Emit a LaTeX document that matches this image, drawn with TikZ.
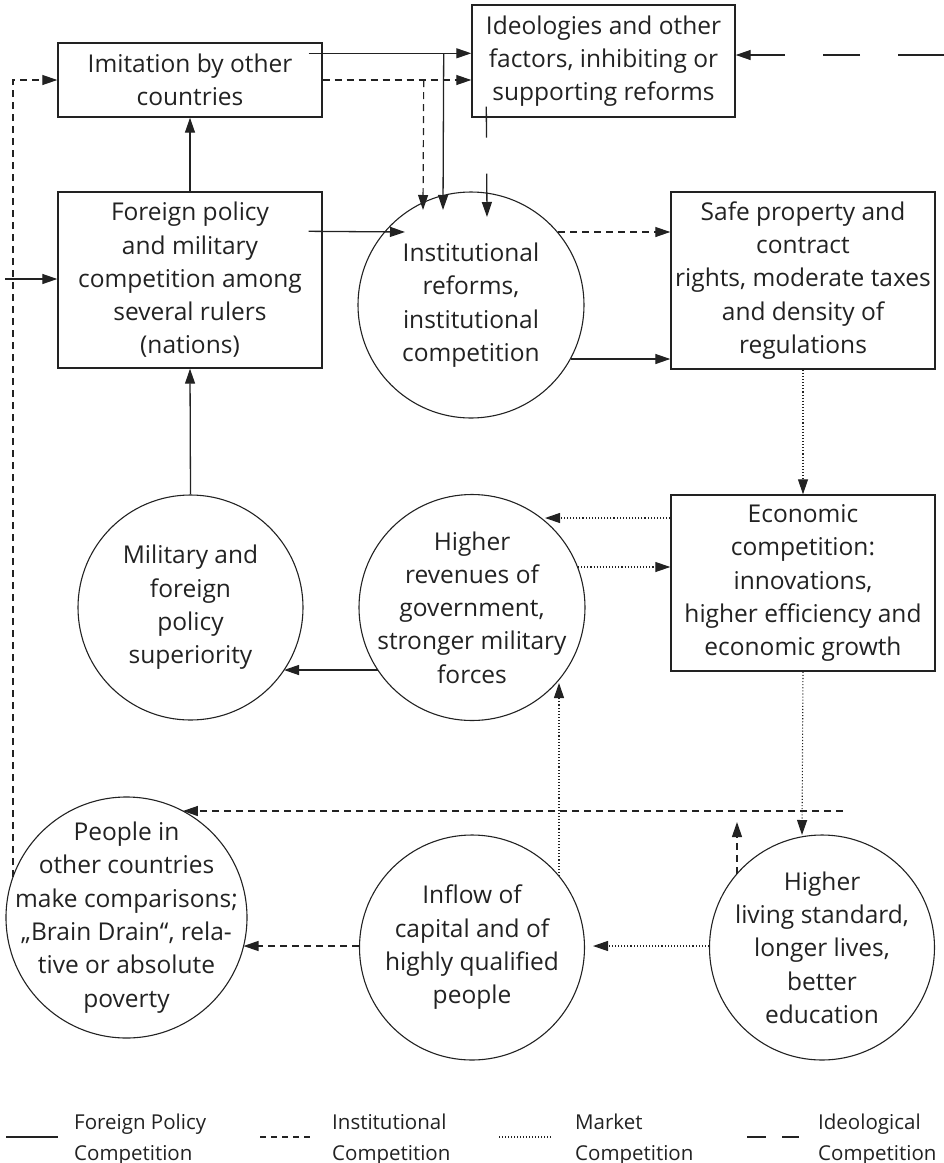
\documentclass[tikz,border=0pt]{standalone}
\usepackage{fontspec}
\setmainfont{Open Sans}
\usetikzlibrary{arrows.meta,calc}
\definecolor{ink}{HTML}{222222}
\begin{document}
\begin{tikzpicture}[x=1pt,y=-1pt,
  every node/.style={font=\fontsize{24.5}{33.3}\selectfont, align=center, inner sep=0pt, text=ink},
  boxnode/.style={draw=ink, line width=1.4pt, rectangle, minimum width=264pt},
  circnode/.style={draw=ink, line width=1.1pt, circle, inner sep=-80pt},
  fp/.style={draw=ink, line width=1.3pt},
  inst/.style={draw=ink, line width=1.2pt, dash pattern=on 7pt off 5pt},
  mkt/.style={draw=ink, line width=1.1pt, dash pattern=on 1.1pt off 2pt},
  ideol/.style={draw=ink, line width=1.3pt},
  tip/.style={-{Triangle[length=15pt,width=10pt]}},
  legtext/.style={font=\fontsize{20.5}{31}\selectfont, anchor=base west, align=left}
]
\useasboundingbox (0,0) rectangle (944,1163);

% nodes
\node[boxnode, minimum height=74pt] (imit) at (190,80) {Imitation by other\\countries};
\node[boxnode, minimum width=263pt, minimum height=112pt] (ideo) at (603.5,61) {Ideologies and other\\factors, inhibiting or\\supporting reforms};
\node[boxnode, minimum height=176pt] (foreign) at (190,280) {Foreign policy\\and military\\competition among\\several rulers\\(nations)};
\node[circnode, minimum size=226pt] (instc) at (471,305) {Institutional\\reforms,\\institutional\\competition};
\node[boxnode, minimum height=177pt] (safe) at (803,280.5) {Safe property and\\contract\\rights, moderate taxes\\and density of\\regulations};
\node[circnode, minimum size=225pt] (milit) at (190.5,607.5) {Military and\\foreign\\policy\\superiority};
\node[circnode, minimum size=226pt] (revenue) at (472,607.5) {Higher\\revenues of\\government,\\stronger military\\forces};
\node[boxnode, minimum height=176pt] (econ) at (803,583) {Economic\\competition:\\innovations,\\higher efficiency and\\economic growth};
\node[circnode, minimum size=241pt] (people) at (126.5,917.5) {People in\\other countries\\make comparisons;\\„Brain Drain“, rela-\\tive or absolute\\poverty};
\node[circnode, minimum size=225pt] (inflow) at (472,947.5) {Inflow of\\capital and of\\highly qualified\\people};
\node[circnode, minimum size=225pt] (living) at (822,947.5) {Higher\\living standard,\\longer lives,\\better\\education};

% free-end coordinates
\coordinate (inL) at (5,279);
\coordinate (ideoR) at (944,55);
\coordinate (hzR) at (843,811);

% helper coordinates on/in nodes
\coordinate (imitA) at ($(imit.north east)+(-14,11)$);
\coordinate (jA) at ($(imitA)+(135,0)$);
\coordinate (jB) at ($(imit.east)+(101,0)$);
\coordinate (fA) at ($(foreign.north east)+(-14,40)$);
\coordinate (iA) at ($(ideo.south west)+(15,-11)$);
\coordinate (iS1) at ($(instc.center)+(87,-73)$);
\coordinate (iS2) at ($(instc.center)+(100,54)$);
\coordinate (rE) at ($(revenue.center)+(106,-40.5)$);

% Foreign policy competition (solid)
\draw[fp,tip] (imitA) -- (imitA -| ideo.west);
\draw[fp,tip] (jA) -- ($(instc.center)+(-28,-95)$);
\draw[fp,tip] (foreign.north) -- (imit.south);
\draw[fp,tip] (inL) -- (inL -| foreign.west);
\draw[fp,tip] (fA) -- ($(instc.center)+(-66,-73)$);
\draw[fp,tip] (iS2) -- (iS2 -| safe.west);
\draw[fp,tip] ($(revenue.center)+(-94,62.5)$) -- ($(milit.center)+(93.5,62.5)$);
\draw[fp,tip] (milit.north) -- (foreign.south);

% Institutional competition (dashed)
\draw[inst,tip] (imit.east) -- (imit.east -| ideo.west);
\draw[inst,tip] (jB) -- ($(instc.center)+(-48,-95)$);
\draw[inst,tip] ($(people.center)+(-113.5,-40.5)$) |- (imit.west);
\draw[inst,tip] (iS1) -- (iS1 -| safe.west);
\draw[inst,tip] (hzR) -- ($(people.center)+(56.4,-106.5)$);
\draw[inst,tip] ($(living.center)+(-85,-74)$) -- ($(living.center)+(-85,-125.5)$);
\draw[inst,tip] ($(inflow.center)+(-113,-1.5)$) -- ($(people.center)+(117,28.5)$);

% Market competition (dotted)
\draw[mkt,tip] (safe.south -| econ.north) -- (econ.north);
\draw[mkt,tip] ($(econ.west)+(0,-65)$) -- ($(revenue.center)+(73,-89.5)$);
\draw[mkt,tip] (rE) -- (rE -| econ.west);
\draw[mkt,tip] (econ.south) -- ($(living.center)+(-20,-112.5)$);
\draw[mkt,tip] ($(inflow.center)+(87,-71.5)$) -- ($(revenue.center)+(87,75.5)$);
\draw[mkt,tip] ($(living.center)+(-113,-1.5)$) -- ($(inflow.center)+(121,-1.5)$);

% Ideological competition (long dashes)
\draw[ideol,dash pattern=on 46pt off 38pt on 37pt off 38pt on 60pt,tip] (ideoR) -- (ideoR -| ideo.east);
\draw[ideol,dash pattern=on 31pt off 36pt on 60pt,tip] (iA) -- ($(instc.center)+(16,-88)$);

% legend
\coordinate (lg1) at (6,1137);
\coordinate (lg2) at (260,1137);
\coordinate (lg3) at (499,1137);
\coordinate (lg4) at (747,1137);
\draw[fp] (lg1) -- ++(52,0);
\draw[inst, dash pattern=on 6pt off 5pt] (lg2) -- ++(53,0);
\draw[mkt, dash pattern=on 0.8pt off 2.2pt] (lg3) -- ++(53,0);
\draw[ideol] (lg4) -- ++(19,0) ++(16,0) -- ++(17,0);
\node[legtext] (l1a) at (74,1129) {Foreign Policy};
\node[legtext] (l1b) at (74,1160) {Competition};
\node[legtext] (l2a) at (332,1129) {Institutional};
\node[legtext] (l2b) at (332,1160) {Competition};
\node[legtext] (l3a) at (575,1129) {Market};
\node[legtext] (l3b) at (575,1160) {Competition};
\node[legtext] (l4a) at (818,1129) {Ideological};
\node[legtext] (l4b) at (818,1160) {Competition};
\end{tikzpicture}
\end{document}
